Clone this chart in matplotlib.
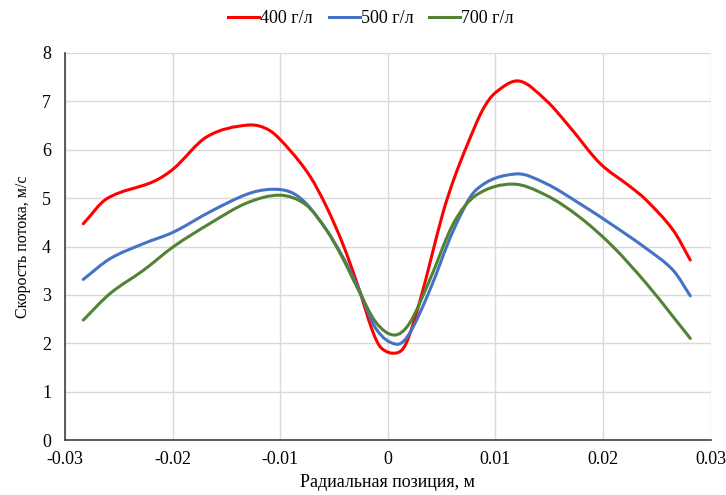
import matplotlib
matplotlib.use('Agg')
import matplotlib.pyplot as plt
import numpy as np
from matplotlib.path import Path
from matplotlib.patches import PathPatch
from matplotlib.lines import Line2D

# values
x_400 = [-0.0283, -0.0261, -0.0218, -0.0199, -0.0168, -0.0130, -0.0110, -0.0091, -0.0072,
         -0.0057, -0.0042, -0.0028, -0.0014, -0.0006, 0.0008, 0.0017, 0.0030,
         0.0051, 0.0061, 0.0073, 0.0088, 0.0100, 0.0122, 0.0147, 0.0169, 0.0197, 0.0225,
         0.0240, 0.0265, 0.0281]
y_400 = [4.47, 4.99, 5.34, 5.61, 6.27, 6.51, 6.40, 5.99, 5.44,
         4.82, 4.06, 3.20, 2.24, 1.90, 1.80, 2.00, 2.89,
         4.68, 5.37, 6.06, 6.82, 7.18, 7.42, 7.02, 6.47, 5.72, 5.24,
         4.96, 4.34, 3.72]

x_500 = [-0.0283, -0.0258, -0.0227, -0.0199, -0.0165, -0.0131, -0.0110, -0.0091, -0.0076,
         -0.0057, -0.0042, -0.0028, -0.0011, 0.0008, 0.0020, 0.0039, 0.0061, 0.0082,
         0.0119, 0.0147, 0.0178, 0.0209, 0.0240, 0.0265, 0.0281]
y_500 = [3.32, 3.75, 4.06, 4.30, 4.72, 5.08, 5.18, 5.13, 4.89,
         4.34, 3.79, 3.17, 2.30, 1.98, 2.20, 3.10, 4.34, 5.17,
         5.50, 5.30, 4.89, 4.44, 3.96, 3.51, 2.98]

x_700 = [-0.0283, -0.0258, -0.0227, -0.0199, -0.0165, -0.0131, -0.0100, -0.0076, -0.0057,
         -0.0042, -0.0028, -0.0011, 0.0006, 0.0020, 0.0038, 0.0061, 0.0082, 0.0116,
         0.0147, 0.0178, 0.0209, 0.0240, 0.0265, 0.0281]
y_700 = [2.48, 3.03, 3.51, 4.00, 4.48, 4.90, 5.06, 4.86, 4.34,
         3.76, 3.13, 2.43, 2.17, 2.41, 3.26, 4.48, 5.06, 5.29,
         5.06, 4.61, 4.00, 3.24, 2.55, 2.10]

labels = ['400 г/л', '500 г/л', '700 г/л']
colors = ['#FF0000', '#4472C4', '#548235']

plt.rcParams['font.family'] = ['Liberation Serif', 'DejaVu Serif']


def smooth_path(xs, ys):
    """Smoothed line through the points: cubic Hermite segments as Bezier curves."""
    x = np.asarray(xs, dtype=float)
    y = np.asarray(ys, dtype=float)
    n = len(x)
    m = np.empty(n)
    m[0] = (y[1] - y[0]) / (x[1] - x[0])
    m[-1] = (y[-1] - y[-2]) / (x[-1] - x[-2])
    m[1:-1] = (y[2:] - y[:-2]) / (x[2:] - x[:-2])
    verts = [(x[0], y[0])]
    codes = [Path.MOVETO]
    for i in range(n - 1):
        h = x[i + 1] - x[i]
        verts += [(x[i] + h / 3, y[i] + m[i] * h / 3),
                  (x[i + 1] - h / 3, y[i + 1] - m[i + 1] * h / 3),
                  (x[i + 1], y[i + 1])]
        codes += [Path.CURVE4] * 3
    return Path(verts, codes)


fig = plt.figure(figsize=(7.26, 4.95), dpi=100)
ax = fig.add_axes([0.0895, 0.111, 0.8895, 0.782])

series = [(x_400, y_400), (x_500, y_500), (x_700, y_700)]
handles = []
for (xs, ys), lab, col in zip(series, labels, colors):
    patch = PathPatch(smooth_path(xs, ys), facecolor='none', edgecolor=col,
                      linewidth=2.2, capstyle='round', zorder=3)
    ax.add_patch(patch)
    handles.append(Line2D([], [], color=col, linewidth=2.2, label=lab))

ax.set_xlim(-0.03, 0.03)
ax.set_ylim(0, 8)
ax.set_xticks(np.arange(-0.03, 0.031, 0.01))
ax.set_xticklabels(['-0.03', '-0.02', '-0.01', '0', '0.01', '0.02', '0.03'])
ax.set_yticks(range(0, 9))
ax.grid(True, color='#D9D9D9', linewidth=1.0)
ax.set_axisbelow(True)
ax.tick_params(length=0, labelsize=13)
ax.tick_params(axis='x', pad=8)
ax.tick_params(axis='y', pad=10)

for s in ['top', 'right']:
    ax.spines[s].set_visible(False)
for s in ['left', 'bottom']:
    ax.spines[s].set_color('#404040')
    ax.spines[s].set_linewidth(1.2)

ax.set_xlabel('Радиальная позиция, м', fontsize=13, labelpad=4)
ax.set_ylabel('Скорость потока, м/с', fontsize=11.5, labelpad=8)

fig.legend(handles=handles, loc='center', bbox_to_anchor=(0.511, 0.962), ncol=3,
           frameon=False, fontsize=13, handlelength=1.7, handletextpad=0.05,
           columnspacing=0.9)

fig.savefig('out.png', dpi=100)
